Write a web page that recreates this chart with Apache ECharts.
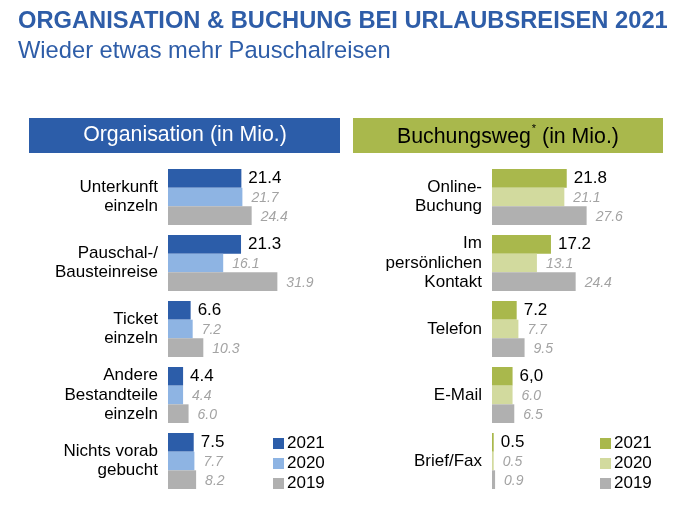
<!DOCTYPE html>
<html>
<head>
<meta charset="utf-8">
<script src="https://cdn.jsdelivr.net/npm/echarts@6/dist/echarts.min.js"></script>
<style>html,body{margin:0;padding:0;background:#fff}#c{width:676px;height:510px}</style>
</head>
<body>
<div id="c"></div>
<script>
var orgCategories = ['Unterkunft\neinzeln', 'Pauschal-/\nBausteinreise', 'Ticket\neinzeln', 'Andere\nBestandteile\neinzeln', 'Nichts vorab\ngebucht'];
var org2021 = [21.4, 21.3, 6.6, 4.4, 7.5];
var org2020 = [21.7, 16.1, 7.2, 4.4, 7.7];
var org2019 = [24.4, 31.9, 10.3, 6.0, 8.2];
var org2021Labels = ['21.4', '21.3', '6.6', '4.4', '7.5'];
var org2020Labels = ['21.7', '16.1', '7.2', '4.4', '7.7'];
var org2019Labels = ['24.4', '31.9', '10.3', '6.0', '8.2'];

var buchCategories = ['Online-\nBuchung', 'Im\npersönlichen\nKontakt', 'Telefon', 'E-Mail', 'Brief/Fax'];
var buch2021 = [21.8, 17.2, 7.2, 6.0, 0.5];
var buch2020 = [21.1, 13.1, 7.7, 6.0, 0.5];
var buch2019 = [27.6, 24.4, 9.5, 6.5, 0.9];
var buch2021Labels = ['21.8', '17.2', '7.2', '6,0', '0.5'];
var buch2020Labels = ['21.1', '13.1', '7.7', '6.0', '0.5'];
var buch2019Labels = ['27.6', '24.4', '9.5', '6.5', '0.9'];

var years = ['2021', '2020', '2019'];

var C = {
  blue: '#2C5DA9', lblue: '#8EB4E3', gray: '#B0B0B0',
  green: '#A9B84C', lgreen: '#D2DA9E', title: '#2E5DA8', lab: '#A3A3A3'
};
var FONT = 'Liberation Sans, Arial, sans-serif';

function mkSeries(name, data, labels, color, xi, main) {
  return {
    type: 'bar', name: name, xAxisIndex: xi, yAxisIndex: xi,
    data: data, barGap: 0, barCategoryGap: '15.15%',
    itemStyle: { color: color },
    label: {
      show: true, position: 'right', distance: main ? 7 : 9,
      fontFamily: FONT,
      fontSize: main ? 17 : 14,
      fontStyle: main ? 'normal' : 'italic',
      color: main ? '#000' : C.lab,
      offset: main ? [0, 0] : [0, 1],
      formatter: function (p) { return labels[p.dataIndex]; }
    },
    emphasis: { disabled: true },
    silent: true
  };
}

var chart = echarts.init(document.getElementById('c'), null, { renderer: 'canvas' });
var yAxisBase = {
  type: 'category', inverse: true,
  axisLine: { show: false }, axisTick: { show: false },
  axisLabel: { color: '#000', fontSize: 17, lineHeight: 19.5, margin: 10, fontFamily: FONT, align: 'right', padding: [4, 0, 0, 0] }
};
var xAxisBase = { type: 'value', min: 0, max: 35, show: false, splitLine: { show: false } };

function legendFor(prefix, left) {
  return {
    data: [prefix + years[0], prefix + years[1], prefix + years[2]], orient: 'vertical', left: left, top: 434,
    padding: 0, itemWidth: 11, itemHeight: 11, itemGap: 1, icon: 'rect', selectedMode: false,
    formatter: function (n) { return n.slice(1); },
    textStyle: { fontSize: 17, color: '#000', fontFamily: FONT, lineHeight: 19, padding: [0, 0, 0, -2] }
  };
}

chart.setOption({
  animation: false,
  textStyle: { fontFamily: FONT },
  title: [
    { text: 'ORGANISATION & BUCHUNG BEI URLAUBSREISEN 2021', left: 18, top: 9, padding: 0,
      textStyle: { fontFamily: FONT, fontSize: 23.7, fontWeight: 'bold', color: C.title } },
    { text: 'Wieder etwas mehr Pauschalreisen', left: 18, top: 39, padding: 0,
      textStyle: { fontFamily: FONT, fontSize: 23.7, fontWeight: 'normal', color: C.title } }
  ],
  grid: [
    { left: 168, top: 164, width: 120, height: 330 },
    { left: 492, top: 164, width: 120, height: 330 }
  ],
  xAxis: [Object.assign({ gridIndex: 0 }, xAxisBase), Object.assign({ gridIndex: 1 }, xAxisBase)],
  yAxis: [
    Object.assign({ gridIndex: 0, data: orgCategories }, yAxisBase),
    Object.assign({ gridIndex: 1, data: buchCategories }, yAxisBase)
  ],
  legend: [legendFor('L', 273), legendFor('R', 600)],
  series: [
    mkSeries('L' + years[0], org2021, org2021Labels, C.blue, 0, true),
    mkSeries('L' + years[1], org2020, org2020Labels, C.lblue, 0, false),
    mkSeries('L' + years[2], org2019, org2019Labels, C.gray, 0, false),
    mkSeries('R' + years[0], buch2021, buch2021Labels, C.green, 1, true),
    mkSeries('R' + years[1], buch2020, buch2020Labels, C.lgreen, 1, false),
    mkSeries('R' + years[2], buch2019, buch2019Labels, C.gray, 1, false)
  ],
  graphic: [
    { type: 'rect', shape: { x: 29, y: 118, width: 311, height: 35 }, style: { fill: C.blue }, silent: true },
    { type: 'text', x: 185, y: 135.5, silent: true,
      style: { text: 'Organisation (in Mio.)', fill: '#fff', fontSize: 21.3, fontFamily: FONT, align: 'center', verticalAlign: 'middle' } },
    { type: 'rect', shape: { x: 353, y: 118, width: 310, height: 35 }, style: { fill: C.green }, silent: true },
    { type: 'text', x: 508, y: 135.5, silent: true,
      style: {
        text: '{a|Buchungsweg}{s|*}{a| (in Mio.)}', align: 'center', verticalAlign: 'middle',
        rich: {
          a: { fontSize: 21.3, fontFamily: FONT, fill: '#000', lineHeight: 24, verticalAlign: 'bottom' },
          s: { fontSize: 11, fontFamily: FONT, fill: '#000', lineHeight: 24, verticalAlign: 'top', padding: [0, 0, 10, 1] }
        }
      } }
  ]
});
</script>
</body>
</html>
